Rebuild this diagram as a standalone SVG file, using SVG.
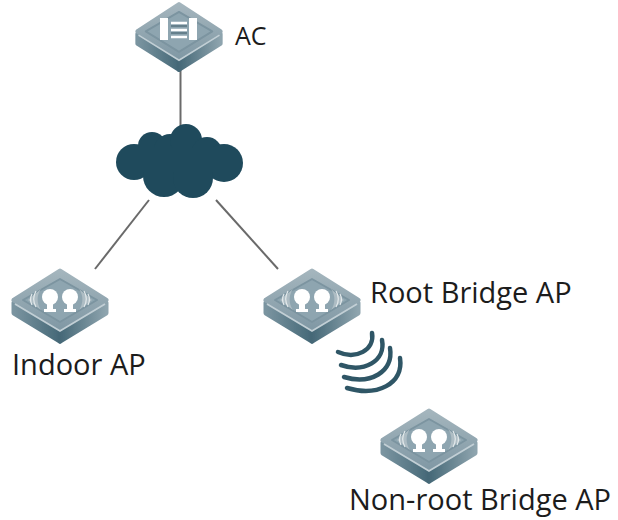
<svg xmlns="http://www.w3.org/2000/svg" width="618" height="520" viewBox="0 0 618 520">
<style>
text{font-family:"Open Sans","Noto Sans","Liberation Sans",sans-serif;fill:#1c1c1c}
.lbl{font-size:29px}
.link{stroke:#6a6a6a;stroke-width:2;fill:none}
.wave{stroke:#2f5666;stroke-width:4.5;fill:none;stroke-linecap:round}
.white{fill:#fff}
</style>
<defs>
<filter id="soft" x="-5%" y="-5%" width="110%" height="110%"><feGaussianBlur stdDeviation="0.5"/></filter>
<linearGradient id="top" x1="0" y1="0" x2="0" y2="1"><stop offset="0" stop-color="#a4b5bd"/><stop offset="1" stop-color="#8199a5"/></linearGradient>
<linearGradient id="sideL" x1="0" y1="0" x2="1" y2="0"><stop offset="0" stop-color="#7a94a0"/><stop offset="1" stop-color="#456877"/></linearGradient>
<linearGradient id="sideR" x1="0" y1="0" x2="1" y2="0"><stop offset="0" stop-color="#456877"/><stop offset="1" stop-color="#8ea4ae"/></linearGradient>
<g id="base">
<path d="M-46 -3 L-46 7 L0 35 L0 22 Z" fill="url(#sideL)" stroke="url(#sideL)" stroke-width="5" stroke-linejoin="round"/>
<path d="M46 -3 L46 7 L0 35 L0 22 Z" fill="url(#sideR)" stroke="url(#sideR)" stroke-width="5" stroke-linejoin="round"/>
<path d="M0 -35 L46 -6 L0 22 L-46 -6 Z" fill="url(#top)" stroke="url(#top)" stroke-width="5" stroke-linejoin="round"/>
<path d="M-45 -2 L0 25 L45 -2" fill="none" stroke="#c2cfd5" stroke-width="1.800"/>
<path d="M0 -27 L37 -6 L0 16 L-37 -6 Z" fill="#8ea5b0" stroke="#7b94a0" stroke-width="2" stroke-linejoin="round"/>
</g>
<g id="ap">
<use href="#base"/>
<path d="M-19 -17 A18 18 0 0 0 -19 4 L-32 -6 Z M19 -17 A18 18 0 0 1 19 4 L32 -6 Z" fill="#aebdc4"/>
<path d="M-24 -15 A16 16 0 0 0 -24 1 M-28 -12 A12 12 0 0 0 -28 -1 M24 -15 A16 16 0 0 1 24 1 M28 -12 A12 12 0 0 1 28 -1" fill="none" stroke="#e4eaec" stroke-width="1.200"/>
<g class="white">
<circle cx="-10" cy="-9" r="8"/><rect x="-13" y="-5" width="6" height="10"/><rect x="-16" y="3" width="12" height="3"/>
<circle cx="10" cy="-9" r="8"/><rect x="7" y="-5" width="6" height="10"/><rect x="4" y="3" width="12" height="3"/>
</g>
</g>
</defs>
<g id="connectors">
<path class="link" d="M180.500 70V126"/>
<path class="link" d="M149 200L95 269"/>
<path class="link" d="M216 200L278 269"/>
</g>
<g id="ac">
<g filter="url(#soft)">
<use href="#base" transform="translate(179 37) scale(.9 .93)"/>
<rect x="160" y="18" width="8" height="22" fill="#fff"/>
<rect x="189" y="18" width="8" height="22" fill="#fff"/>
<path d="M171 23H187M171 30H187M171 37H187" stroke="#fff" stroke-width="2.500"/>
<path d="M171 26H187M171 33H187" stroke="#3f5c69" stroke-width="1.200"/>
</g>
<text x="235" y="45" font-size="25">AC</text>
</g>
<g id="cloud" fill="#1f4a5c">
<circle cx="134" cy="162" r="18"/><circle cx="152" cy="146" r="14"/><circle cx="170" cy="150" r="16"/><circle cx="186" cy="140" r="16"/><circle cx="207" cy="152" r="15"/><circle cx="224" cy="163" r="19"/><circle cx="164" cy="176" r="21"/><circle cx="193" cy="178" r="20"/><rect x="135" y="148" width="90" height="24"/>
</g>
<g id="indoor-ap"><use href="#ap" x="60" y="306" filter="url(#soft)"/><text class="lbl" x="12" y="375">Indoor AP</text></g>
<g id="root-ap"><use href="#ap" x="312" y="306" filter="url(#soft)"/><text class="lbl" x="370" y="303">Root Bridge AP</text></g>
<g id="waves">
<path class="wave" d="M338 352C356 360 375 350 372 333"/>
<path class="wave" d="M341 365C364 373 386 361 382 340"/>
<path class="wave" d="M344 377C370 385 394 372 390 348"/>
<path class="wave" d="M347 388C377 397 404 384 400 358"/>
</g>
<g id="nonroot-ap"><use href="#ap" x="429" y="446" filter="url(#soft)"/><text class="lbl" x="349" y="510">Non-root Bridge AP</text></g>
</svg>
